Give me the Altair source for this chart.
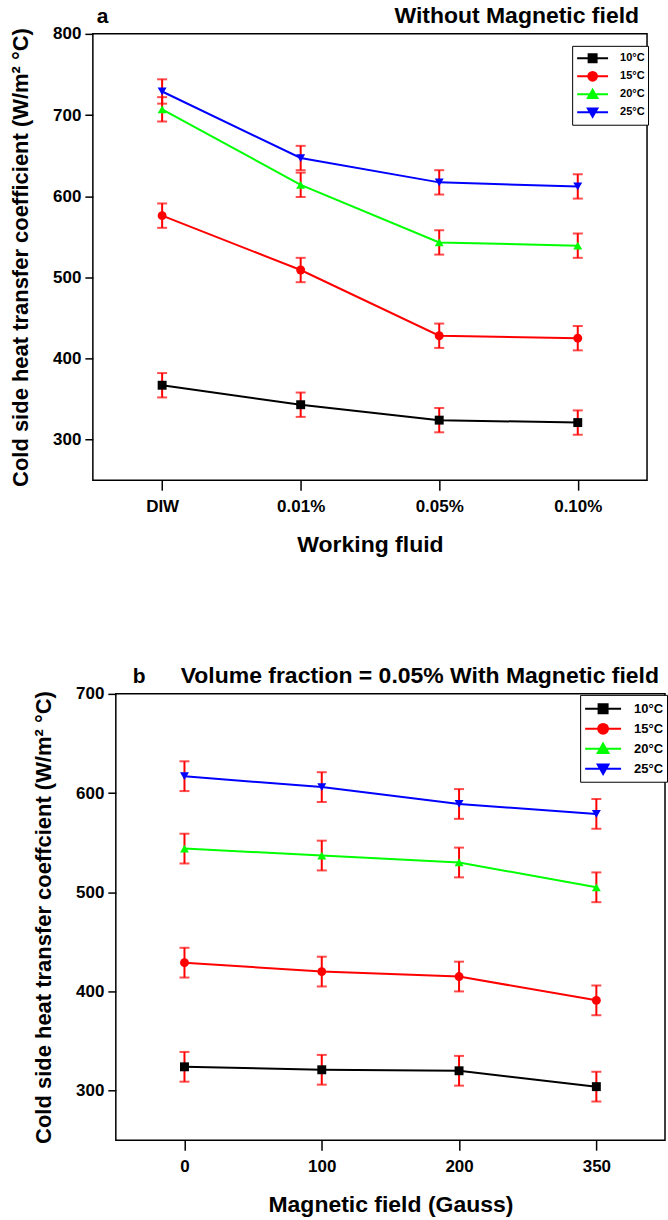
import json
import altair as alt
import pandas as pd

# ---------------- data ----------------
series = ["10°C", "15°C", "20°C", "25°C"]
colors = ["#000000", "#ff0000", "#00ff00", "#0000ff"]
shapes = ["square", "circle", "triangle-up", "triangle-down"]

# panel a : without magnetic field
fluids = ["DIW", "0.01%", "0.05%", "0.10%"]
a_10 = [367, 343, 324, 321]
a_15 = [576, 509, 428, 425]
a_20 = [707, 614, 543, 539]
a_25 = [729, 647, 617, 612]

# panel b : volume fraction 0.05 % with magnetic field
gauss = ["0", "100", "200", "350"]
b_10 = [324, 321, 320, 304]
b_15 = [429, 420, 415, 391]
b_20 = [544, 537, 530, 505]
b_25 = [617, 606, 589, 579]

err = 15  # +/- error bar half height
panel_labels = ["a", "b"]
titles = ["Without Magnetic field", "Volume fraction = 0.05% With Magnetic field"]
xtitles = ["Working fluid", "Magnetic field (Gauss)"]
ytitles = ["Cold side heat transfer coefficient (W/m² °C)",
           "Cold side heat transfer coeffcient (W/m² °C)"]

FONT = "Liberation Sans"


def long_df(cats, cols):
    rows = []
    for s, vals in zip(series, cols):
        for i, (c, v) in enumerate(zip(cats, vals)):
            rows.append({"idx": i, "cat": c, "T": s, "val": v,
                         "lo": v - err, "hi": v + err})
    return pd.DataFrame(rows)


def legend_path(half_len, m):
    r = m * 1.1
    return [
        f"M{-half_len},0H{half_len}M{-m},{-m}H{m}V{m}H{-m}Z",
        f"M{-half_len},0H{half_len}M{r},0A{r},{r},0,1,1,{-r},0A{r},{r},0,1,1,{r},0Z",
        f"M{-half_len},0H{half_len}M0,{-m*1.15}L{m*1.2},{m*0.95}H{-m*1.2}Z",
        f"M{-half_len},0H{half_len}M0,{m*1.15}L{m*1.2},{-m*0.95}H{-m*1.2}Z",
    ]


def panel(df, cats, ydom, yvals, title, xtitle, ytitle, plab, labx, tdx, tsize,
          inset, w, h, leg):
    # inset: empty strip left of the framed plot box (shifts panel b to the right)
    W = inset + w
    labexpr = json.dumps(cats) + "[datum.value]"
    xs = alt.Scale(domain=[-0.5, len(cats) - 0.5], range=[inset, W], nice=False, zero=False)
    ys = alt.Scale(domain=ydom, nice=False, zero=False)
    x = alt.X("idx:Q", scale=xs,
              axis=alt.Axis(values=list(range(len(cats))), labelExpr=labexpr,
                            title=xtitle, tickSize=10, labelPadding=8, titlePadding=19,
                            titleFontSize=23))
    y = alt.Y("val:Q", scale=ys,
              axis=alt.Axis(values=yvals, title=ytitle, tickSize=8, labelPadding=4,
                            titlePadding=20, offset=-inset))
    col = alt.Color("T:N", scale=alt.Scale(domain=series, range=colors), legend=None)
    base = alt.Chart(df)
    line = base.mark_line(strokeWidth=2).encode(x=x, y=y, color=col, detail="T:N")
    frame = alt.Chart(pd.DataFrame({"f": [0]})).mark_rect(
        fillOpacity=0, stroke="black", strokeWidth=1.5).encode(
        x=alt.value(inset), x2=alt.value(W), y=alt.value(0), y2=alt.value(h))
    rule = base.mark_rule(color="#ff0000", strokeWidth=2).encode(x="idx:Q", y="lo:Q", y2="hi:Q")
    caps_lo = base.mark_tick(color="#ff0000", orient="horizontal", size=10, thickness=2).encode(
        x="idx:Q", y="lo:Q")
    caps_hi = base.mark_tick(color="#ff0000", orient="horizontal", size=10, thickness=2).encode(
        x="idx:Q", y="hi:Q")
    pts = base.mark_point(filled=True, size=80, opacity=1).encode(
        x="idx:Q", y="val:Q", color=col,
        shape=alt.Shape("T:N", scale=alt.Scale(domain=series, range=shapes), legend=None))
    legend = alt.Legend(title=None, orient="none", legendX=inset + leg["x"], legendY=leg["y"],
                        symbolSize=leg["size"], symbolStrokeWidth=2,
                        symbolOffset=leg["so"], labelOffset=leg["lo"],
                        labelFont=FONT, labelFontSize=leg["fs"], labelFontWeight="bold",
                        labelColor="black", strokeColor="black", fillColor="white",
                        padding=leg["pad"], rowPadding=0)
    dummy = base.transform_filter("false").mark_point(filled=True, strokeWidth=2, opacity=1).encode(
        fill=alt.Fill("T:N", scale=alt.Scale(domain=series, range=colors), legend=legend),
        stroke=alt.Stroke("T:N", scale=alt.Scale(domain=series, range=colors), legend=legend),
        shape=alt.Shape("T:N", scale=alt.Scale(domain=series, range=leg["paths"]), legend=legend),
    )
    lab = alt.Chart(pd.DataFrame({"lab": [plab]})).mark_text(
        align="left", baseline="alphabetic", font=FONT, fontSize=21, fontWeight="bold",
        color="black").encode(text="lab:N", x=alt.value(inset + labx), y=alt.value(-11))
    ttl = alt.Chart(pd.DataFrame({"ttl": [title]})).mark_text(
        align="right", baseline="alphabetic", font=FONT, fontSize=tsize, fontWeight="bold",
        color="black").encode(text="ttl:N", x=alt.value(W - tdx), y=alt.value(-11))
    ch = alt.layer(line, frame, rule, caps_lo, caps_hi, pts, dummy, lab, ttl).resolve_scale(
        shape="independent", fill="independent", stroke="independent").properties(
        width=W, height=h)
    return ch


df_a = long_df(fluids, [a_10, a_15, a_20, a_25])
df_b = long_df(gauss, [b_10, b_15, b_20, b_25])

top = panel(df_a, fluids, [250, 800], [300, 400, 500, 600, 700, 800], titles[0], xtitles[0],
            ytitles[0], panel_labels[0], 4, 8, 23, 0, 555, 447,
            {"x": 480, "y": 12, "size": 289, "so": 8, "lo": 18, "fs": 11, "pad": 3,
             "paths": legend_path(1.82, 0.47)})
bottom = panel(df_b, gauss, [250, 700], [300, 400, 500, 600, 700], titles[1], xtitles[1],
               ytitles[1], panel_labels[1], 17, 6, 23, 23, 550, 447,
               {"x": 465, "y": 1, "size": 400, "so": 9, "lo": 20, "fs": 13, "pad": 3,
                "paths": legend_path(1.8, 0.45)})

chart = alt.vconcat(top, bottom, spacing=107).properties(
    padding={"left": 9, "top": 3, "right": 0, "bottom": 0}
).configure(font=FONT).configure_view(
    stroke="transparent"
).configure_axis(
    labelFont=FONT, labelFontSize=17, labelFontWeight="bold", labelColor="black",
    titleFont=FONT, titleFontSize=22, titleFontWeight="bold", titleColor="black",
    tickColor="black", tickWidth=1.5, domain=False, grid=False
)

chart.save("out.html", embed_options={"renderer": "svg", "actions": False})
